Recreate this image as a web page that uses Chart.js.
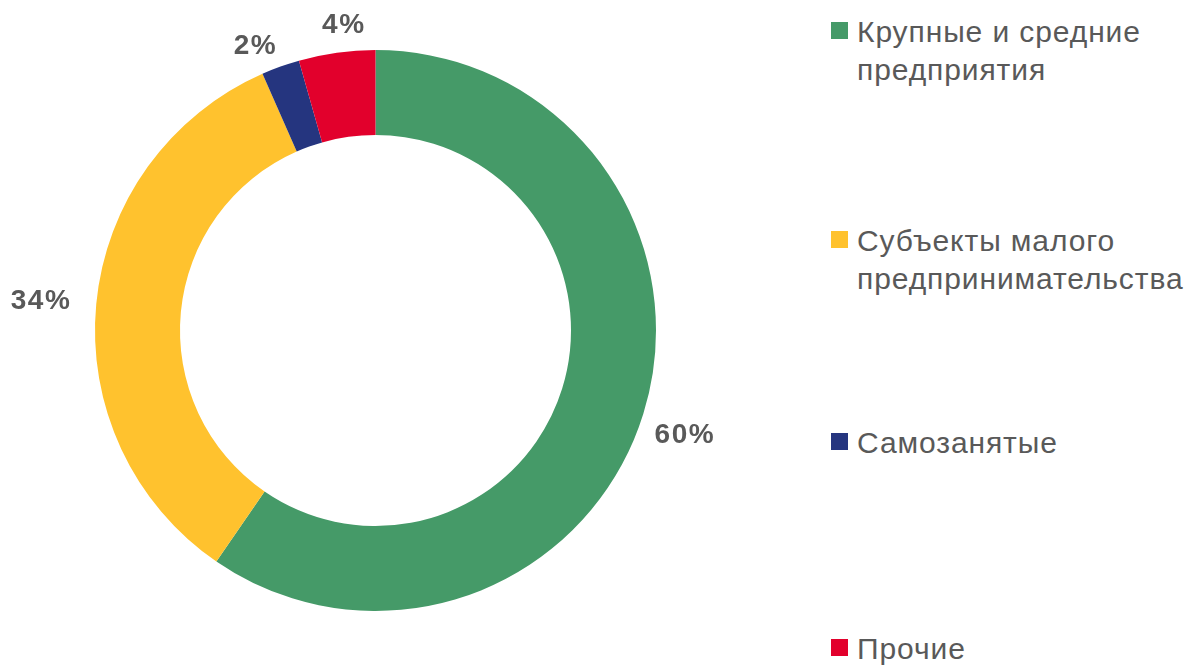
<!DOCTYPE html>
<html lang="ru">
<head>
<meta charset="utf-8">
<script src="https://cdn.jsdelivr.net/npm/chart.js@4.4.1/dist/chart.umd.min.js"></script>
<style>
  html, body { margin: 0; padding: 0; background: #fff; }
  body { width: 1190px; height: 666px; position: relative; overflow: hidden; font-family: "Liberation Sans", Arial, sans-serif; }
  #chartBox { position: absolute; left: 0; top: 0; width: 751px; height: 661px; }
  .legend-item { position: absolute; left: 831px; display: flex; align-items: flex-start; color: #595959; font-size: 30px; line-height: 38px; letter-spacing: 0.9px; white-space: nowrap; }
  .legend-item .sw { width: 17px; height: 17px; margin-top: 9px; margin-right: 9px; flex: none; }
</style>
</head>
<body>
<div id="chartBox"><canvas id="pie"></canvas></div>
<div id="legend"></div>
<script>
// данные диаграммы
const categories = ['Крупные и средние предприятия', 'Субъекты малого предпринимательства', 'Самозанятые', 'Прочие'];
const legendLines = [['Крупные и средние', 'предприятия'], ['Субъекты малого', 'предпринимательства'], ['Самозанятые'], ['Прочие']];
const shares = [59.6, 33.8, 2.2, 4.4];
const shareLabels = ['60%', '34%', '2%', '4%'];
const colors = ['#459A68', '#FFC22E', '#25357F', '#E2002C'];

// позиции легенды (верх каждой записи) и сдвиги подписей
const legendTops = [13, 222, 424, 630];
const labelNudges = [[-4, 7], [-9, 2], [-15, 8], [11, 1]];

const legendBox = document.getElementById('legend');
legendLines.forEach((lines, i) => {
    const item = document.createElement('div');
    item.className = 'legend-item';
    item.style.top = legendTops[i] + 'px';
    item.innerHTML = `<span class="sw" style="background:${colors[i]}"></span><span>${lines.join('<br>')}</span>`;
    legendBox.appendChild(item);
});

// подписи процентов снаружи кольца
const outsideLabels = {
    id: 'outsideLabels',
    afterDatasetsDraw(chart) {
        const ctx = chart.ctx;
        const arcs = chart.getDatasetMeta(0).data;
        ctx.save();
        ctx.font = 'bold 28px "Liberation Sans", Arial, sans-serif';
        ctx.letterSpacing = '1.5px';
        ctx.fillStyle = '#595959';
        ctx.textAlign = 'center';
        ctx.textBaseline = 'middle';
        arcs.forEach((arc, i) => {
            const mid = (arc.startAngle + arc.endAngle) / 2;
            const ux = Math.cos(mid);
            const uy = Math.sin(mid);
            const w = ctx.measureText(shareLabels[i]).width;
            const h = 26;
            const d = Math.min(
                Math.abs(ux) > 0.001 ? w / 2 / Math.abs(ux) : Infinity,
                Math.abs(uy) > 0.001 ? h / 2 / Math.abs(uy) : Infinity
            );
            const r = arc.outerRadius + 16 + d;
            const [nx, ny] = labelNudges[i];
            ctx.fillText(shareLabels[i], arc.x + ux * r + nx, arc.y + uy * r + ny);
        });
        ctx.restore();
    }
};

new Chart(document.getElementById('pie'), {
    type: 'doughnut',
    data: {
        labels: categories,
        datasets: [{
            data: shares,
            backgroundColor: colors,
            borderWidth: 0
        }]
    },
    options: {
        responsive: true,
        maintainAspectRatio: false,
        animation: false,
        cutout: '69.7%',
        layout: { padding: { top: 50, bottom: 50, left: 95, right: 95 } },
        plugins: {
            legend: { display: false },
            tooltip: { enabled: false }
        }
    },
    plugins: [outsideLabels]
});
</script>
</body>
</html>
